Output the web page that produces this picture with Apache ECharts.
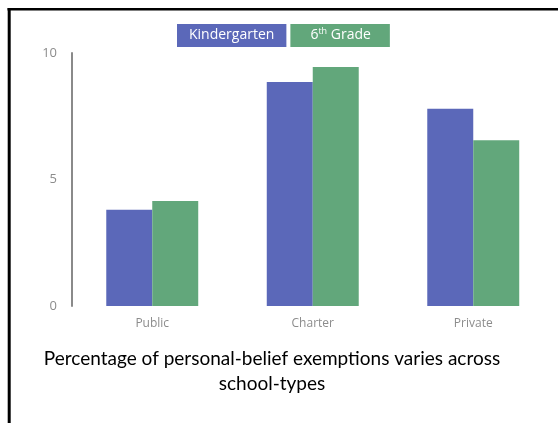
<!DOCTYPE html>
<html>
<head>
<meta charset="utf-8">
<script src="https://cdn.jsdelivr.net/npm/echarts@6/dist/echarts.min.js"></script>
<style>
html,body{margin:0;padding:0;background:#fff;}
#chart{width:558px;height:423px;}
</style>
</head>
<body>
<div id="chart"></div>
<script>
const categories = ['Public', 'Charter', 'Private'];
const kindergarten = [3.8, 8.85, 7.8];
const sixthGrade = [4.15, 9.45, 6.55];
const yTicks = [0, 5, 10];
const seriesNames = ['Kindergarten', '6th Grade'];
const titleText = 'Percentage of personal-belief exemptions varies across\nschool-types';

const BLUE = '#5b68b9';
const GREEN = '#62a77b';

const chart = echarts.init(document.getElementById('chart'));
chart.setOption({
  animation: false,
  backgroundColor: '#fff',
  graphic: [
    { type: 'line', shape: { x1: 7.5, y1: 9.3, x2: 558, y2: 9.3 }, style: { stroke: '#000', lineWidth: 2.6 } },
    { type: 'line', shape: { x1: 9.2, y1: 8, x2: 9.2, y2: 423 }, style: { stroke: '#000', lineWidth: 3 } }
  ],
  title: {
    text: titleText,
    left: 272,
    top: 346,
    padding: 0,
    textAlign: 'center',
    textStyle: {
      fontFamily: 'Lato',
      fontWeight: 'normal',
      fontSize: 19,
      color: '#000',
      lineHeight: 25
    }
  },
  legend: {
    left: 172,
    top: 24,
    padding: 0,
    itemWidth: 0,
    itemHeight: 0,
    itemGap: -1,
    selectedMode: false,
    data: [
      { name: seriesNames[0], icon: 'rect', textStyle: { backgroundColor: BLUE, padding: [3, 12, 3, 12] } },
      { name: seriesNames[1], icon: 'rect', textStyle: { backgroundColor: GREEN, padding: [3, 19, 3, 20] } }
    ],
    formatter: function (name) {
      if (name === '6th Grade') return '6{sup|th} Grade';
      return name;
    },
    textStyle: {
      fontFamily: 'Open Sans',
      fontSize: 14,
      color: '#fff',
      lineHeight: 17,
      rich: {
        sup: { fontFamily: 'Open Sans', fontSize: 9, color: '#fff', verticalAlign: 'top', lineHeight: 17, padding: [0, 0, 6, 0] }
      }
    }
  },
  grid: { left: 72, top: 53, width: 481.5, height: 253, containLabel: false },
  xAxis: {
    type: 'category',
    data: categories,
    axisLine: { show: false },
    axisTick: { show: false },
    axisLabel: { color: '#8c8c8c', fontFamily: 'Open Sans', fontSize: 12, margin: 12 }
  },
  yAxis: {
    type: 'value',
    min: yTicks[0],
    max: yTicks[yTicks.length - 1],
    interval: 5,
    axisLine: { show: true, lineStyle: { color: '#8a8a8a', width: 2 } },
    axisTick: { show: false },
    splitLine: { show: false },
    axisLabel: { color: '#8c8c8c', fontFamily: 'Open Sans', fontSize: 13, margin: 15 }
  },
  series: [
    { name: seriesNames[0], type: 'bar', data: kindergarten, barGap: '0%', barCategoryGap: '42.7%', itemStyle: { color: BLUE } },
    { name: seriesNames[1], type: 'bar', data: sixthGrade, barGap: '0%', barCategoryGap: '42.7%', itemStyle: { color: GREEN } }
  ]
});
</script>
</body>
</html>
